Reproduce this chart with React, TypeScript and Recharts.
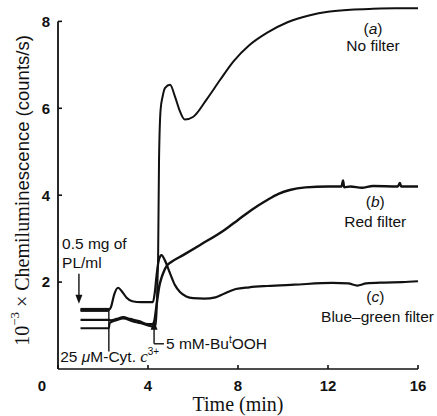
import React from "react";
import { LineChart, Line, XAxis, YAxis, ReferenceLine, ReferenceDot } from "recharts";

// time (min) and 10^-3 x counts/s
const timeNoFilter = [1.0, 2.26, 2.3, 2.6, 2.9, 3.3, 3.7, 4.0, 4.2, 4.33, 4.38, 4.42, 4.45, 4.49, 4.56, 4.65, 4.76, 4.98, 5.2, 5.39, 5.64, 6.0, 6.6, 7.2, 7.8, 8.5, 9.3, 10.2, 11.2, 12.0, 13.0, 14.0, 15.0, 16.0];
const noFilter = [0.94, 0.94, 1.06, 1.12, 1.16, 1.1, 1.05, 1.0, 0.98, 1.0, 1.3, 2.0, 2.6, 4.8, 5.97, 6.27, 6.47, 6.54, 6.27, 5.97, 5.74, 5.8, 6.2, 6.65, 7.08, 7.45, 7.74, 7.98, 8.14, 8.22, 8.27, 8.29, 8.3, 8.3];

const timeRed = [1.0, 2.26, 2.35, 2.6, 2.9, 3.2, 3.6, 4.0, 4.2, 4.28, 4.35, 4.42, 4.5, 4.6, 4.7, 4.84, 5.0, 5.56, 6.3, 7.4, 8.0, 8.6, 9.3, 9.8, 10.3, 11.0, 12.0, 12.6, 12.67, 12.72, 13.0, 13.5, 14.0, 15.1, 15.2, 15.25, 16.0];
const redFilter = [1.13, 1.13, 1.12, 1.15, 1.19, 1.15, 1.1, 1.03, 1.03, 1.1, 1.35, 1.62, 1.9, 2.1, 2.24, 2.38, 2.45, 2.62, 2.85, 3.2, 3.43, 3.66, 3.89, 4.03, 4.12, 4.18, 4.2, 4.2, 4.34, 4.18, 4.2, 4.17, 4.21, 4.2, 4.28, 4.2, 4.2];

const timeBlueGreen = [1.0, 2.26, 2.35, 2.5, 2.67, 2.85, 3.05, 3.3, 3.7, 4.22, 4.3, 4.38, 4.46, 4.55, 4.6, 4.75, 4.98, 5.2, 5.42, 5.7, 6.0, 6.5, 7.0, 7.4, 7.9, 8.5, 9.3, 10.5, 12.2, 12.9, 13.3, 13.7, 14.5, 15.3, 16.0];
const blueGreenFilter = [1.36, 1.36, 1.42, 1.72, 1.87, 1.78, 1.64, 1.56, 1.54, 1.54, 1.75, 2.15, 2.45, 2.6, 2.62, 2.5, 2.2, 1.93, 1.77, 1.67, 1.63, 1.62, 1.65, 1.74, 1.84, 1.88, 1.91, 1.94, 1.98, 1.97, 1.92, 1.97, 1.99, 2.0, 2.02];

const xTicks = [0, 4, 8, 12, 16];
const yTicks = [2, 4, 6, 8];

const toPoints = (ts: number[], vs: number[]) => ts.map((t, i) => ({ t, v: vs[i] }));
const seriesA = toPoints(timeNoFilter, noFilter);
const seriesB = toPoints(timeRed, redFilter);
const seriesC = toPoints(timeBlueGreen, blueGreenFilter);

const INK = "#111";
const SANS = "'Liberation Sans', Arial, Helvetica, sans-serif";
const SERIF = "'Liberation Serif', 'Times New Roman', serif";

function XTick({ x, y, payload }: any) {
  const shift = payload.value === 0 ? -16 : 0;
  return (
    <text x={x + shift} y={y} dy="0.71em" textAnchor="middle" fontFamily={SANS} fontWeight="bold" fontSize={15} fill={INK}>
      {payload.value}
    </text>
  );
}

function YTick({ x, y, payload }: any) {
  return (
    <text x={x} y={y} dy="0.36em" textAnchor="end" fontFamily={SANS} fontWeight="bold" fontSize={15} fill={INK}>
      {payload.value}
    </text>
  );
}

function YTitle(props: any) {
  const vb = props.viewBox || { x: 18, y: 4, width: 40, height: 365 };
  const cx = vb.x + 4;
  const cy = vb.y + vb.height / 2 + 4;
  return (
    <text x={cx} y={cy} transform={`rotate(-90, ${cx}, ${cy})`} textAnchor="middle" dominantBaseline="central" fill={INK} fontSize={20}>
      <tspan fontFamily={SERIF}>10</tspan>
      <tspan fontFamily={SERIF} fontSize={13} dy={-8}>−3</tspan>
      <tspan fontFamily={SERIF} dy={8}> × Chemilumi</tspan>
      <tspan fontFamily={SANS} fontSize={18.5}>nescence (counts/s)</tspan>
    </text>
  );
}

function XTitle(props: any) {
  const vb = props.viewBox || { x: 58, y: 369, width: 360, height: 30 };
  return (
    <text x={vb.x + vb.width / 2} y={vb.y + 42} textAnchor="middle" fontFamily={SERIF} fontSize={20} fill={INK}>
      Time (min)
    </text>
  );
}

function Note({ viewBox, text, anchor = "middle", italic }: any) {
  return (
    <text x={viewBox.x} y={viewBox.y} dy="0.36em" textAnchor={anchor} fontFamily={SANS} fontSize={15.5} fill={INK}>
      {italic ? (
        <>
          (<tspan fontStyle="italic">{italic}</tspan>)
        </>
      ) : (
        text
      )}
    </text>
  );
}

function CytNote({ viewBox }: any) {
  return (
    <text x={viewBox.x} y={viewBox.y} dy="0.36em" textAnchor="start" fontFamily={SANS} fontSize={15.5} fill={INK}>
      25 <tspan fontStyle="italic">μ</tspan>M-Cyt. <tspan fontFamily={SERIF} fontStyle="italic" fontSize={17}>c</tspan>
      <tspan fontSize={10} dy={-7}>3+</tspan>
    </text>
  );
}

function BuNote({ viewBox }: any) {
  return (
    <text x={viewBox.x} y={viewBox.y} dy="0.36em" textAnchor="start" fontFamily={SANS} fontSize={15.5} fill={INK}>
      5 mM-Bu<tspan fontSize={10} dy={-6}>t</tspan>
      <tspan dy={6}>OOH</tspan>
    </text>
  );
}

const arrowDown = (p: any) => <path d={`M${p.cx - 3.5},${p.cy - 9}L${p.cx + 3.5},${p.cy - 9}L${p.cx},${p.cy}Z`} fill={INK} />;
const arrowUp = (p: any) => <path d={`M${p.cx - 3.5},${p.cy + 9}L${p.cx + 3.5},${p.cy + 9}L${p.cx},${p.cy}Z`} fill={INK} />;

export default function App() {
  return (
    <div style={{ position: "absolute", left: 0, top: 0, background: "#fff" }}>
      <LineChart width={437} height={416} margin={{ top: 4, right: 19, bottom: 17, left: 18 }}>
        <XAxis
          dataKey="t"
          type="number"
          domain={[0, 16]}
          ticks={xTicks}
          height={30}
          tickSize={-4}
          tickMargin={15}
          tick={<XTick />}
          axisLine={{ stroke: INK, strokeWidth: 1.6 }}
          tickLine={{ stroke: INK, strokeWidth: 1.6 }}
          label={<XTitle />}
        />
        <YAxis
          type="number"
          domain={[0, 8.4]}
          ticks={yTicks}
          width={40}
          tickSize={-4}
          tickMargin={12}
          tick={<YTick />}
          axisLine={false}
          tickLine={{ stroke: INK, strokeWidth: 1.6 }}
          label={<YTitle />}
        />
        <ReferenceLine segment={[{ x: 0, y: 0 }, { x: 0, y: 8 }]} stroke={INK} strokeWidth={1.8} />

        {/* 0.5 mg of PL/ml */}
        <ReferenceLine segment={[{ x: 0.93, y: 2.19 }, { x: 0.93, y: 1.6 }]} stroke={INK} strokeWidth={1.4} />
        <ReferenceDot x={0.93} y={1.5} r={0} ifOverflow="visible" shape={arrowDown} />
        <ReferenceDot x={0.18} y={2.9} r={0} ifOverflow="visible" label={<Note anchor="start" text="0.5 mg of" />} />
        <ReferenceDot x={0.18} y={2.45} r={0} ifOverflow="visible" label={<Note anchor="start" text="PL/ml" />} />

        {/* cytochrome c addition */}
        <ReferenceLine segment={[{ x: 2.26, y: 1.4 }, { x: 2.26, y: 0.4 }]} stroke={INK} strokeWidth={1.4} />
        <ReferenceDot x={0.1} y={0.3} r={0} ifOverflow="visible" label={<CytNote />} />

        {/* Bu'OOH addition */}
        <ReferenceLine segment={[{ x: 4.27, y: 1.0 }, { x: 4.27, y: 0.58 }]} stroke={INK} strokeWidth={1.4} />
        <ReferenceLine segment={[{ x: 4.27, y: 0.58 }, { x: 4.71, y: 0.58 }]} stroke={INK} strokeWidth={1.4} />
        <ReferenceDot x={4.27} y={1.11} r={0} ifOverflow="visible" shape={arrowUp} />
        <ReferenceDot x={4.8} y={0.6} r={0} ifOverflow="visible" label={<BuNote />} />

        {/* curve labels */}
        <ReferenceDot x={14.0} y={7.84} r={0} ifOverflow="visible" label={<Note italic="a" />} />
        <ReferenceDot x={14.0} y={7.44} r={0} ifOverflow="visible" label={<Note text="No filter" />} />
        <ReferenceDot x={14.1} y={3.85} r={0} ifOverflow="visible" label={<Note italic="b" />} />
        <ReferenceDot x={14.1} y={3.39} r={0} ifOverflow="visible" label={<Note text="Red filter" />} />
        <ReferenceDot x={14.1} y={1.66} r={0} ifOverflow="visible" label={<Note italic="c" />} />
        <ReferenceDot x={14.2} y={1.2} r={0} ifOverflow="visible" label={<Note text="Blue–green filter" />} />

        <Line data={seriesA} dataKey="v" type="monotone" dot={false} stroke={INK} strokeWidth={2} isAnimationActive={false} />
        <Line data={seriesB} dataKey="v" type="monotone" dot={false} stroke={INK} strokeWidth={2.4} isAnimationActive={false} />
        <Line data={seriesC} dataKey="v" type="monotone" dot={false} stroke={INK} strokeWidth={2.2} isAnimationActive={false} />
        <Line data={seriesC.slice(0, 2)} dataKey="v" type="linear" dot={false} stroke={INK} strokeWidth={4} isAnimationActive={false} />
      </LineChart>
    </div>
  );
}
